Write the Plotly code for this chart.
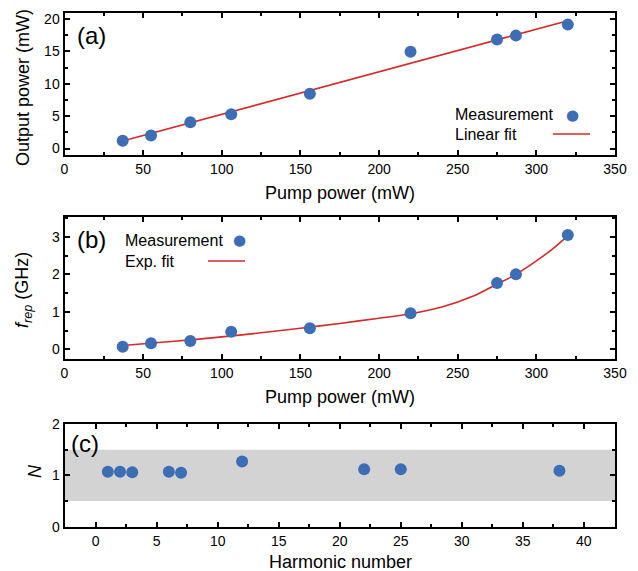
import plotly.graph_objects as go

# ---------------- data ----------------
pump_mw = [37, 55, 80, 106, 156, 220, 275, 287, 320]
output_mw = [1.2, 2.0, 4.05, 5.3, 8.45, 14.95, 16.85, 17.45, 19.15]
lin_fit_x = [37, 320]
lin_fit_y = [1.15, 19.75]

frep_ghz = [0.07, 0.16, 0.22, 0.47, 0.56, 0.96, 1.77, 2.00, 3.05]
exp_fit_x = [37, 60, 80, 100, 125, 150, 175, 200, 220, 240, 260, 275, 287, 300, 310, 320]
exp_fit_y = [0.10, 0.18, 0.25, 0.33, 0.44, 0.56, 0.69, 0.83, 0.95, 1.13, 1.42, 1.74, 2.00, 2.36, 2.67, 3.03]

harmonic = [1, 2, 3, 6, 7, 12, 22, 25, 38]
n_vals = [1.07, 1.07, 1.06, 1.07, 1.05, 1.27, 1.12, 1.12, 1.09]
band = [0.5, 1.5]

# ---------------- style ----------------
W, H = 638, 571
BLUE = "#3d6db5"
RED = "#d42a2a"
FONT = "Liberation Sans, Arial, sans-serif"
px_l, px_r = 64.5, 615.0
dom_x = [px_l / W, px_r / W]
def ydom(top, bot):
    return [1 - bot / H, 1 - top / H]
dom_a = ydom(13.3, 155.0)
dom_b = ydom(216.7, 359.0)
dom_c = ydom(424.0, 526.7)

def X(px):
    return px / W
def Y(py):
    return 1 - py / H

fig = go.Figure()
mk = dict(color=BLUE, size=12, line=dict(width=0))

fig.add_trace(go.Scatter(x=lin_fit_x, y=lin_fit_y, mode="lines",
                         line=dict(color=RED, width=1.6), xaxis="x", yaxis="y", showlegend=False))
fig.add_trace(go.Scatter(x=pump_mw, y=output_mw, mode="markers", marker=mk,
                         xaxis="x", yaxis="y", showlegend=False))
fig.add_trace(go.Scatter(x=exp_fit_x, y=exp_fit_y, mode="lines",
                         line=dict(color=RED, width=1.6, shape="spline", smoothing=0.8),
                         xaxis="x2", yaxis="y2", showlegend=False))
fig.add_trace(go.Scatter(x=pump_mw, y=frep_ghz, mode="markers", marker=mk,
                         xaxis="x2", yaxis="y2", showlegend=False))
fig.add_trace(go.Scatter(x=harmonic, y=n_vals, mode="markers", marker=mk,
                         xaxis="x3", yaxis="y3", showlegend=False))

def ax(domain, rng, dtick, minor_dtick, anchor):
    return dict(domain=domain, range=rng, dtick=dtick, tick0=0, anchor=anchor,
                automargin=False,
                showgrid=False, zeroline=False, showline=True, linecolor="black",
                linewidth=2, mirror="ticks", ticks="inside", ticklen=5, tickwidth=1.5,
                tickcolor="black",
                minor=dict(dtick=minor_dtick, tick0=0, ticks="inside", ticklen=3,
                           tickwidth=1.5, tickcolor="black", showgrid=False),
                tickfont=dict(family=FONT, size=14, color="black"))

fig.update_layout(
    template="none",
    width=W, height=H, autosize=False,
    margin=dict(l=0, r=0, t=0, b=0, pad=0),
    paper_bgcolor="white", plot_bgcolor="white",
    showlegend=False,
    font=dict(family=FONT, color="black"),
    xaxis=ax(dom_x, [0, 350], 50, 25, "y"),
    yaxis=ax(dom_a, [-1, 20.9], 5, 2.5, "x"),
    xaxis2=ax(dom_x, [0, 350], 50, 25, "y2"),
    yaxis2=ax(dom_b, [-0.26, 3.54], 1, 0.5, "x2"),
    xaxis3=ax(dom_x, [-2.55, 42.55], 5, 2.5, "y3"),
    yaxis3=ax(dom_c, [0, 2], 1, 0.5, "x3"),
)

# grey band in (c)
fig.add_shape(type="rect", xref="x3 domain", yref="y3", x0=0, x1=1, y0=band[0], y1=band[1],
              fillcolor="#d3d3d3", line=dict(width=0), layer="below")

ann = []
def txt(x, y, s, size, xanchor="center", angle=0, yanchor="middle"):
    ann.append(dict(x=X(x), y=Y(y), xref="paper", yref="paper", text=s, showarrow=False,
                    xanchor=xanchor, yanchor=yanchor, textangle=angle,
                    font=dict(family=FONT, size=size, color="black")))

# axis titles
txt(340, 192.5, "Pump power (mW)", 18)
txt(340, 396.5, "Pump power (mW)", 18)
txt(340, 562, "Harmonic number", 18)
txt(23, 88, "Output power (mW)", 18, angle=-90)
txt(23, 290, "<i>f</i><sub><i>rep</i></sub> (GHz)", 18, angle=-90)
txt(35, 471, "<i>N</i>", 18, angle=-90)

# panel labels
txt(75, 35, "(a)", 24, xanchor="left")
txt(75, 239, "(b)", 24, xanchor="left")
txt(69, 443, "(c)", 24, xanchor="left")

# legends (symbol to the right of the text)
txt(453, 114.5, "Measurement", 16, xanchor="left")
txt(453, 134.5, "Linear fit", 16, xanchor="left")
txt(123, 240.5, "Measurement", 16, xanchor="left")
txt(123, 261, "Exp. fit", 16, xanchor="left")
ann.append(dict(x=X(572), y=Y(114.5), xref="paper", yref="paper", text="\u25cf", showarrow=False,
                xanchor="center", yanchor="middle", font=dict(family="DejaVu Sans", size=15, color=BLUE)))
ann.append(dict(x=X(239), y=Y(240.5), xref="paper", yref="paper", text="\u25cf", showarrow=False,
                xanchor="center", yanchor="middle", font=dict(family="DejaVu Sans", size=15, color=BLUE)))
fig.update_layout(annotations=ann)
fig.add_shape(type="line", xref="paper", yref="paper", x0=X(553), x1=X(590), y0=Y(134), y1=Y(134),
              line=dict(color=RED, width=1.6))
fig.add_shape(type="line", xref="paper", yref="paper", x0=X(208), x1=X(245), y0=Y(261), y1=Y(261),
              line=dict(color=RED, width=1.6))

fig.write_html("out.html")
